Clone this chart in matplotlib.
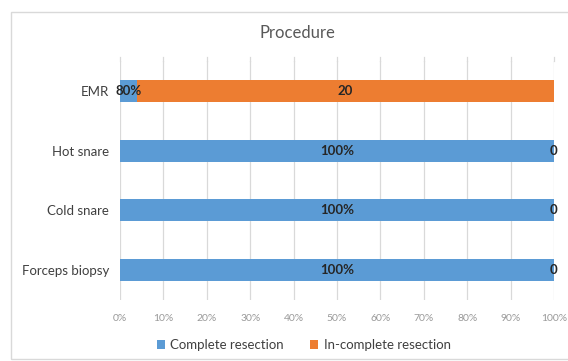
import numpy as np
import matplotlib.pyplot as plt
from matplotlib.patches import Rectangle

plt.rcParams['font.family'] = ['Lato', 'DejaVu Sans']

categories = ["Forceps biopsy", "Cold snare", "Hot snare", "EMR"]
complete = [1.0, 1.0, 1.0, 0.8]      # shown as percentages
incomplete = [0, 0, 0, 20]           # shown as plain numbers
series_names = ["Complete resection", "In-complete resection"]
xticks = np.arange(0, 1.01, 0.1)

blue = "#5B9BD5"
orange = "#ED7D31"

complete = np.array(complete)
incomplete = np.array(incomplete)
total = complete + incomplete
share_c = complete / total
share_i = incomplete / total

fig = plt.figure(figsize=(5.68, 3.61), dpi=100)
ax = fig.add_axes([0.2113, 0.169, 0.764, 0.662])

# outer chart border
fig.patches.append(Rectangle((11/568, 0.005), 0.99, 1 - 12/361 - 0.005,
                             transform=fig.transFigure, fill=False,
                             edgecolor="#d9d9d9", linewidth=1.0))

y = np.arange(len(categories))
h = 0.37
bc = ax.barh(y, share_c, height=h, color=blue, label=series_names[0], zorder=3)
bi = ax.barh(y, share_i, left=share_c, height=h, color=orange,
             label=series_names[1], zorder=3)

for i in range(len(categories)):
    ax.text(share_c[i] / 2, y[i], f"{complete[i]:.0%}", ha="center", va="center",
            fontsize=9.5, fontweight="bold", color="#262626", zorder=4)
    ax.text(share_c[i] + share_i[i] / 2, y[i], f"{incomplete[i]:g}", ha="center",
            va="center", fontsize=9.5, fontweight="bold", color="#262626", zorder=4)

ax.set_xlim(0, 1)
ax.set_ylim(-0.5, len(categories) - 0.5)
ax.set_yticks(y)
ax.set_yticklabels(categories, fontsize=9.5, color="#404040")
ax.set_xticks(xticks)
ax.set_xticklabels([f"{t:.0%}" for t in xticks], fontsize=7.5, color="#999999")
ax.tick_params(axis="y", length=0, pad=8)
ax.tick_params(axis="x", length=0, pad=10)
ax.grid(axis="x", color="#d9d9d9", linewidth=0.9, zorder=0)
for s in ax.spines.values():
    s.set_visible(False)
# gridlines run a little below the plotting area
for t in xticks:
    ax.plot([t, t], [len(categories) - 0.5, len(categories) - 0.5 + 0.07],
            color="#d9d9d9", linewidth=0.9, clip_on=False, zorder=0)

fig.text(0.523, 1 - 33/361, "Procedure", ha="center", va="center",
         fontsize=12, color="#595959")

fig.legend(handles=[bc, bi], labels=series_names, loc="center",
           bbox_to_anchor=(0.535, 1 - 345/361), ncol=2, frameon=False,
           fontsize=9.5, handlelength=0.6, handleheight=0.6, columnspacing=2.0,
           handletextpad=0.4, labelcolor="#404040")

fig.savefig("out.png", dpi=100)
